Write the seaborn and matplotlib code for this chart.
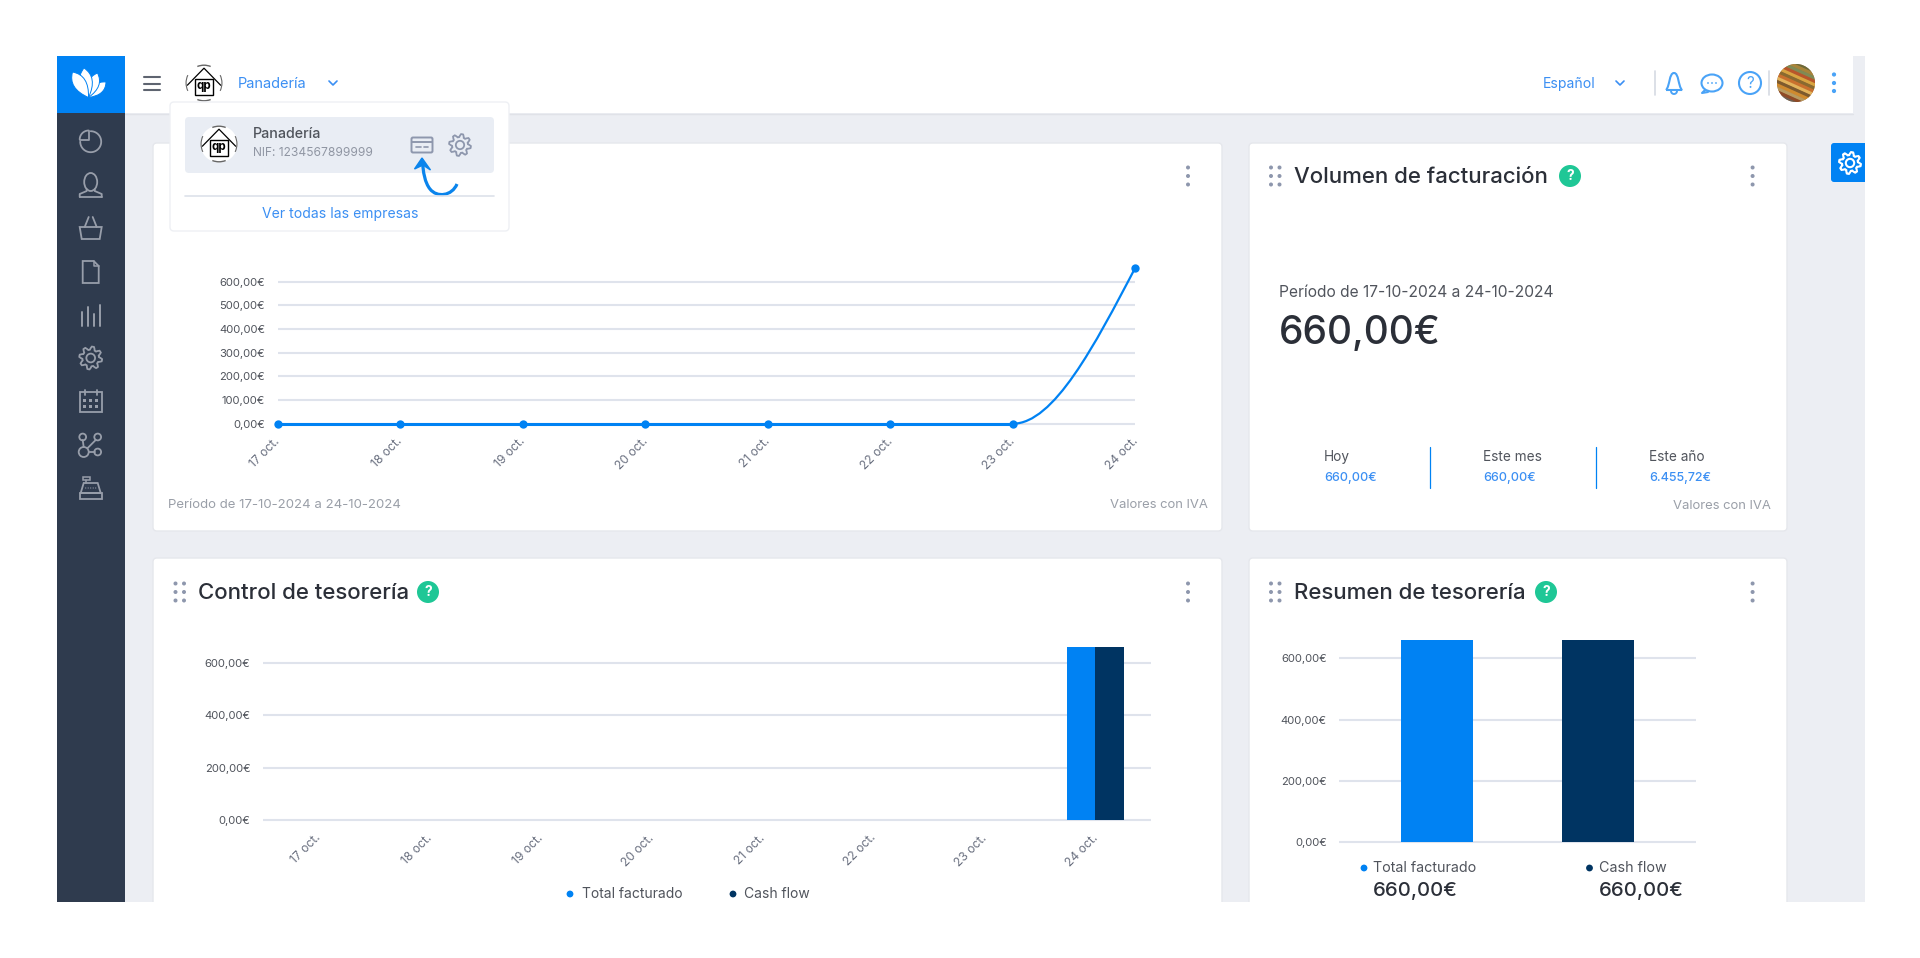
import numpy as np
import pandas as pd
import matplotlib
matplotlib.use('Agg')
import matplotlib.pyplot as plt
from matplotlib.patches import Rectangle, FancyBboxPatch, Circle, Ellipse, Wedge, Polygon, PathPatch
from matplotlib.path import Path
from matplotlib.transforms import ScaledTranslation
import seaborn as sns

# Data
dias = ['17 oct.', '18 oct.', '19 oct.', '20 oct.', '21 oct.', '22 oct.', '23 oct.', '24 oct.']
facturado_dia = [0, 0, 0, 0, 0, 0, 0, 660]
cash_flow_dia = [0, 0, 0, 0, 0, 0, 0, 660]
ticks_linea = [0, 100, 200, 300, 400, 500, 600]
etiquetas_linea = ['0,00€', '100,00€', '200,00€', '300,00€', '400,00€', '500,00€', '600,00€']
ticks_barras = [0, 200, 400, 600]
etiquetas_barras = ['0,00€', '200,00€', '400,00€', '600,00€']
series = ['Total facturado', 'Cash flow']
totales = [660, 660]
resumen_titulos = ['Hoy', 'Este mes', 'Este año']
resumen_valores = ['660,00€', '660,00€', '6.455,72€']

AZUL = '#0082F3'
MARINO = '#003462'
FONDO = '#ECEEF3'
REJILLA = '#DFE3EC'
OSCURO = '#2B2F38'
GRIS = '#9A9FA8'
LINK = '#3B8FF3'
ICONO = '#989EAA'
W, H = 1920, 958

sns.set_theme(style='white')
plt.rcParams['font.family'] = ['Inter', 'DejaVu Sans']

fig = plt.figure(figsize=(W / 100, H / 100), dpi=100, facecolor='white')
ui = fig.add_axes([0, 0, 1, 1], zorder=0)
ui.set_xlim(0, W)
ui.set_ylim(H, 0)
ui.axis('off')


def caja(x0, y0, x1, y1, color, r=4, z=1, borde='none'):
    ui.add_patch(FancyBboxPatch((x0 + r, y0 + r), x1 - x0 - 2 * r, y1 - y0 - 2 * r,
                                boxstyle=f'round,pad={r},rounding_size={r}', fc=color, ec=borde, lw=1, zorder=z))


def texto(x, y, s, size=9, color=OSCURO, ha='left', weight='normal', z=6):
    ui.text(x, y + 1.3, s, fontsize=size, color=color, ha=ha, va='center', fontweight=weight, zorder=z)


def linea(xs, ys, color=ICONO, lw=1.3, z=5):
    ui.plot(xs, ys, color=color, lw=lw, solid_capstyle='round', zorder=z)


def engranaje(cx, cy, r, color=ICONO, lw=1.3, z=5):
    ang = np.linspace(0, 2 * np.pi, 65)
    rad = r * (0.86 + 0.14 * np.tanh(3 * np.sin(8 * ang)))
    ui.add_patch(Polygon(np.c_[cx + rad * np.cos(ang), cy + rad * np.sin(ang)], fc='none', ec=color, lw=lw, zorder=z))
    ui.add_patch(Circle((cx, cy), r * 0.38, fc='none', ec=color, lw=lw, zorder=z))


def casa(cx, cy, r):
    ui.add_patch(Circle((cx, cy), r, fc='white', ec='none', zorder=5))
    for centro in (90, 270):
        ui.add_patch(Wedge((cx, cy), r, centro - 22, centro + 22, width=1.4, fc='#666666', ec='none', zorder=6))
    for centro in (0, 180):
        ui.add_patch(Wedge((cx, cy), r, centro - 26, centro + 26, width=1.1, fc='#666666', ec='none', zorder=6))
    linea([cx - r * 0.9, cx, cx + r * 0.9], [cy + r * 0.12, cy - r * 0.8, cy + r * 0.12], 'black', 0.9, 6)
    ui.add_patch(Rectangle((cx - r * 0.48, cy - r * 0.2), r * 0.96, r * 0.85, fc='white', ec='black', lw=1, zorder=6))
    ui.text(cx, cy + r * 0.14, 'qp', fontsize=r * 0.45, ha='center', va='center', color='black', fontweight='bold', zorder=7)


def puntos_v(x, y):
    for d in (-8.5, 0, 8.5):
        ui.add_patch(Circle((x, y + d), 2, fc='#8E97AD', ec='none', zorder=6))


def cabecera(x_asa, x_tit, y, titulo, x_ayuda, x_menu):
    for dx in (0, 8.5):
        for dy in (-8.5, 0, 8.5):
            ui.add_patch(Circle((x_asa + dx, y + dy), 2, fc='#8E97AD', ec='none', zorder=6))
    texto(x_tit, y, titulo, 16, OSCURO, weight='medium')
    ui.add_patch(Circle((x_ayuda, y), 11, fc='#1FC796', ec='none', zorder=6))
    ui.text(x_ayuda, y, '?', fontsize=10, color='white', ha='center', va='center', fontweight='bold', zorder=7)
    puntos_v(x_menu, y)


def ejes(izq, der, y0, y600, arriba, xlim):
    abajo = y0 + 4
    ax = fig.add_axes([izq / W, 1 - abajo / H, (der - izq) / W, (abajo - arriba) / H], zorder=2)
    ax.patch.set_alpha(0)
    k = 600 / (y0 - y600)
    ax.set_ylim(-4 * k, (y0 - arriba) * k)
    ax.set_xlim(*xlim)
    return ax


def estilo(ax, ticks, etiquetas, pos, labels):
    ax.set_yticks(ticks, etiquetas)
    ax.set_xlabel('')
    ax.set_ylabel('')
    ax.yaxis.grid(True, color=REJILLA, lw=1.5)
    ax.set_axisbelow(True)
    sns.despine(ax=ax, left=True, bottom=True)
    ax.tick_params(axis='y', length=0, pad=9.0, labelsize=8.1, labelcolor='#50545C')
    if labels:
        ax.set_xticks(pos, labels)
        ax.tick_params(axis='x', length=0, pad=5.5, labelsize=8.7, labelcolor='#6A7080')
        corrimiento = ScaledTranslation(-3.5 / 100, 0, fig.dpi_scale_trans)
        for t in ax.get_xticklabels():
            t.set_rotation(45)
            t.set_ha('right')
            t.set_va('top')
            t.set_rotation_mode('anchor')
            t.set_transform(t.get_transform() + corrimiento)


# Page frame
ui.add_patch(Rectangle((57, 56), 1808, 846, fc=FONDO, ec='none', zorder=0))
ui.add_patch(Rectangle((125, 56), 1728, 57, fc='white', ec='none', zorder=1))
ui.plot([125, 1853], [113.5, 113.5], color='#E0E2E8', lw=1, zorder=1)
ui.add_patch(Rectangle((57, 113), 68, 789, fc='#2F3B4E', ec='none', zorder=1))
ui.add_patch(Rectangle((57, 56), 68, 57, fc=AZUL, ec='none', zorder=1))

# Logo
base = np.array([88.5, 97.5])
for tip in [(106, 82), (97.5, 73), (84, 68), (72.5, 72)]:
    tip = np.array(tip)
    d = tip - base
    n = np.array([-d[1], d[0]]) * 0.42
    petalo = Path([base, base + 0.62 * d + n, tip, base + 0.62 * d - n, base],
                  [Path.MOVETO, Path.CURVE3, Path.CURVE3, Path.CURVE3, Path.CURVE3])
    ui.add_patch(PathPatch(petalo, fc='white', ec=AZUL, lw=0.7, zorder=3))

# Sidebar icons
cx = 90.7
ang = np.radians(np.linspace(90, -180, 50))
linea(cx + 10.5 * np.cos(ang), 141.7 - 10.5 * np.sin(ang), lw=1.3)
ang = np.radians(np.linspace(90, 180, 20))
linea(cx - 2 + 9 * np.cos(ang), 139.5 - 9 * np.sin(ang), lw=1.3)
linea([cx - 11, cx - 2, cx - 2], [139.5, 139.5, 130.5], lw=1.3)
ui.add_patch(Ellipse((cx, 182), 13, 18, fc='none', ec=ICONO, lw=1.3, zorder=5))
linea([cx - 11, cx - 11, cx - 4, cx - 4], [197, 194, 191, 189], lw=1.3)
linea([cx + 11, cx + 11, cx + 4, cx + 4], [197, 194, 191, 189], lw=1.3)
linea([cx - 11, cx + 11], [197, 197], lw=1.3)
ui.add_patch(Polygon([(cx - 11, 227), (cx + 11, 227), (cx + 9, 239), (cx - 9, 239)], fc='none', ec=ICONO, lw=1.3, zorder=5))
linea([cx - 6, cx - 2], [227, 217], lw=1.3)
linea([cx + 6, cx + 2], [227, 217], lw=1.3)
ui.add_patch(Polygon([(cx - 8, 261), (cx + 3, 261), (cx + 8, 266), (cx + 8, 283), (cx - 8, 283)], fc='none', ec=ICONO, lw=1.3, zorder=5))
linea([cx + 3, cx + 3, cx + 8], [261, 266, 266], lw=1.1)
for dx, top in [(-9, 312), (-3, 307), (3, 314), (9, 305)]:
    linea([cx + dx, cx + dx], [top, 326], lw=1.4)
engranaje(cx, 358, 11.5, lw=1.3)
ui.add_patch(Rectangle((cx - 11, 392), 22, 20, fc='none', ec=ICONO, lw=1.3, zorder=5))
linea([cx - 6, cx - 6], [390, 395], lw=1.3)
linea([cx + 6, cx + 6], [390, 395], lw=1.3)
for dy in (400, 406):
    for dx in (-6, 0, 6):
        ui.add_patch(Rectangle((cx + dx - 1.5, dy - 1.5), 3, 3, fc=ICONO, ec='none', zorder=5))
for px, py, rr in [(-8, 437, 3.4), (7, 437, 3.4), (-7, 452, 5), (7, 452, 3.4)]:
    ui.add_patch(Circle((cx + px, py), rr, fc='none', ec=ICONO, lw=1.3, zorder=5))
linea([cx - 8, cx - 7], [440, 447], lw=1.3)
linea([cx + 5, cx - 3], [440, 448], lw=1.3)
linea([cx - 2, cx + 4], [452, 452], lw=1.3)
ui.add_patch(Rectangle((cx - 11, 493), 22, 6, fc='none', ec=ICONO, lw=1.3, zorder=5))
ui.add_patch(Polygon([(cx - 10, 493), (cx - 7, 483), (cx + 7, 483), (cx + 10, 493)], fc='none', ec=ICONO, lw=1.3, zorder=5))
ui.add_patch(Rectangle((cx - 8, 477), 7, 3, fc='none', ec=ICONO, lw=1.1, zorder=5))
linea([cx - 4.5, cx - 4.5], [480, 483], lw=1.1)
for dx in (-5, -2.5, 0, 2.5, 5):
    ui.add_patch(Circle((cx + dx, 488), 0.6, fc=ICONO, ec='none', zorder=5))

# Header bar
for y in (77, 83.5, 90):
    linea([143.5, 159.5], [y, y], '#5E6470', 1.5)
casa(204, 83, 18.5)
texto(238, 83, 'Panadería', 10.5, LINK)
linea([329, 333, 337], [81, 85, 81], LINK, 1.2)
texto(1543, 83, 'Español', 10.1, LINK)
linea([1616, 1620, 1624], [81, 85, 81], LINK, 1.2)
linea([1655, 1655], [71, 95], '#D5DAE3', 1.2)
linea([1769, 1769], [71, 95], '#D5DAE3', 1.2)
AZ_ICO = '#4AA3F7'
ui.add_patch(PathPatch(Path([(1666, 90), (1670, 86), (1669, 73), (1674, 73), (1679, 73), (1678, 86), (1682, 90), (1666, 90)],
                            [1, 4, 4, 4, 4, 4, 4, 2]), fc='none', ec=AZ_ICO, lw=1.5, zorder=5))
ang = np.radians(np.linspace(180, 360, 12))
linea(1674 + 3 * np.cos(ang), 91 - 3 * np.sin(ang), AZ_ICO, 1.4)
ui.add_patch(Ellipse((1712, 83), 21, 17, fc='none', ec=AZ_ICO, lw=1.5, zorder=5))
linea([1705, 1702, 1708], [90, 93, 92], AZ_ICO, 1.5)
for dx in (-4, 0, 4):
    ui.add_patch(Circle((1712 + dx, 83), 0.9, fc=AZ_ICO, ec='none', zorder=5))
ui.add_patch(Circle((1750, 83), 11, fc='none', ec=AZ_ICO, lw=1.5, zorder=5))
ui.text(1750, 83, '?', fontsize=11, color=AZ_ICO, ha='center', va='center', zorder=6)
fondo_avatar = Circle((1796, 83), 19, fc='#9A6A35', ec='none', zorder=5)
ui.add_patch(fondo_avatar)
for i, c in enumerate(['#6B6A3A', '#A8843A', '#7F8A55', '#B8562B', '#D9A441', '#8A6A30', '#C9702E', '#E3B35B',
                       '#7D5A2E', '#CF8A2E', '#B89A60', '#8F4A26', '#6A6058', '#555555', '#8C8C8C']):
    ln, = ui.plot([1776, 1816], [60 + 3.4 * i - 6, 60 + 3.4 * i + 12], color=c, lw=2.5, zorder=5)
    ln.set_clip_path(fondo_avatar)
for y in (74.5, 83, 91):
    ui.add_patch(Circle((1834, y), 2.1, fc=AZ_ICO, ec='none', zorder=5))

# Side gear tab
caja(1831, 143, 1880, 182, AZUL, r=3, z=1)
ui.add_patch(Rectangle((1865, 130), 20, 70, fc='white', ec='none', zorder=2))
engranaje(1850, 163, 11, 'white', 1.5)

# Cards
BORDE = '#E5E7EC'
caja(153, 143, 1222, 531, 'white', borde=BORDE)
caja(1249, 143, 1787, 531, 'white', borde=BORDE)
caja(153, 558, 1222, 930, 'white', borde=BORDE)
caja(1249, 558, 1787, 930, 'white', borde=BORDE)
puntos_v(1188, 176)

cabecera(1271, 1294, 176, 'Volumen de facturación', 1570, 1752.6)
cabecera(175.5, 198, 592, 'Control de tesorería', 428, 1188)
cabecera(1271, 1294, 592, 'Resumen de tesorería', 1546, 1752.6)

# Card footers and invoicing summary
texto(168, 504, 'Período de 17-10-2024 a 24-10-2024', 9.5, GRIS)
texto(1208, 504, 'Valores con IVA', 9.4, GRIS, ha='right')
texto(1771, 504.5, 'Valores con IVA', 9.4, GRIS, ha='right')
texto(1279, 291, 'Período de 17-10-2024 a 24-10-2024', 11.2, '#50545C')
texto(1279, 332, '660,00€', 28, OSCURO, weight='medium')
for x, tit, val in zip([1324, 1483, 1649], resumen_titulos, resumen_valores):
    texto(x, 456, tit, 9.8, '#50545C')
    texto(x, 477, val, 9, LINK, weight='medium')
linea([1429.5, 1429.5], [447, 488], AZUL, 0.9)
linea([1595.5, 1595.5], [447, 488], AZUL, 0.9)

# Line chart
pos = np.arange(len(dias))
df_linea = pd.DataFrame({'pos': pos, 'valor': facturado_dia})
ax1 = ejes(277.5, 1135.4, 423.7, 281.7, 255, (0, 7))
sns.lineplot(data=df_linea.iloc[:7], x='pos', y='valor', color=AZUL, lw=2.2, ax=ax1, zorder=3)
sns.scatterplot(data=df_linea, x='pos', y='valor', color=AZUL, s=36, linewidth=0, ax=ax1, zorder=4, clip_on=False)
# monotone curve between the last two days, control points derived from the values
x_a, x_b = pos[-2], pos[-1]
v_a, v_b = facturado_dia[-2], facturado_dia[-1]
curva = Path([(x_a, v_a), (x_a + (x_b - x_a) / 3, v_a), (x_b - (x_b - x_a) / 3, v_a + (v_b - v_a) / 2), (x_b, v_b)],
             [Path.MOVETO, Path.CURVE4, Path.CURVE4, Path.CURVE4])
ax1.add_patch(PathPatch(curva, fc='none', ec=AZUL, lw=1.6, zorder=3, clip_on=False))
estilo(ax1, ticks_linea, etiquetas_linea, pos, dias)

# Daily treasury bars
df_dia = pd.DataFrame({
    'dia': dias * 2,
    'serie': [series[0]] * len(dias) + [series[1]] * len(dias),
    'valor': facturado_dia + cash_flow_dia,
})
ax3 = ejes(262.8, 1150.9, 820.3, 662.7, 640, (-0.5, 7.5))
sns.barplot(data=df_dia, x='dia', y='valor', hue='serie', palette=[AZUL, MARINO], width=0.51, saturation=1,
            linewidth=0, legend=False, ax=ax3, zorder=3)
ax3.set_xlim(-0.5, 7.5)
estilo(ax3, ticks_barras, etiquetas_barras, pos, dias)

# Summary bars
df_total = pd.DataFrame({'serie': series, 'valor': totales})
ax4 = ejes(1339.3, 1695.8, 842, 658.3, 632, (-0.609, 1.609))
sns.barplot(data=df_total, x='serie', y='valor', hue='serie', palette=[AZUL, MARINO], width=0.448, saturation=1,
            linewidth=0, legend=False, ax=ax4, zorder=3)
ax4.set_xlim(-0.609, 1.609)
estilo(ax4, ticks_barras, etiquetas_barras, None, None)
ax4.set_xticks([])

# Legends
for xm, xt, s, c in [(570, 582, series[0], AZUL), (733, 744, series[1], MARINO)]:
    ui.add_patch(Circle((xm, 894), 3.4, fc=c, ec='none', zorder=6))
    texto(xt, 893, s, 10, '#50545C')
for xm, xt, s, c, v in [(1364, 1373, series[0], AZUL, totales[0]), (1589.5, 1599, series[1], MARINO, totales[1])]:
    ui.add_patch(Circle((xm, 868), 3.4, fc=c, ec='none', zorder=6))
    texto(xt, 867, s, 10.3, '#50545C')
    texto(xt, 890, f'{v},00€', 14.6, OSCURO, weight='medium')

# Company dropdown
caja(170, 102, 509, 231, 'white', z=7, borde='#EEF0F4')
caja(185, 117, 494, 173, '#E9EDF4', z=7)
n_p, n_l, n_t = len(ui.patches), len(ui.lines), len(ui.texts)
casa(219, 144, 18.5)
texto(253, 133, 'Panadería', 10.3, '#50545C', weight='medium')
texto(253, 152, 'NIF: 1234567899999', 8.65, '#9096A3')
ui.add_patch(FancyBboxPatch((412, 138), 20, 14, boxstyle='round,pad=0.5,rounding_size=1.5', fc='none', ec='#8E97AD', lw=1.4))
linea([412, 432], [142, 142], '#8E97AD', 1.4)
linea([416, 421], [147, 147], '#8E97AD', 1.2)
linea([424, 428], [147, 147], '#8E97AD', 1.2)
engranaje(460, 145, 11, '#8E97AD', 1.3)
linea([185, 494], [196, 196], '#DDE1EA', 1.2)
texto(340, 213, 'Ver todas las empresas', 10.1, LINK, ha='center')
flecha = Path([(457, 184), (452, 196), (437, 198), (430, 189), (425, 183), (423, 172), (422.5, 161)],
              [Path.MOVETO, Path.CURVE4, Path.CURVE4, Path.CURVE4, Path.CURVE4, Path.CURVE4, Path.CURVE4])
ui.add_patch(PathPatch(flecha, fc='none', ec='#0A84EC', lw=2.3))
ui.add_patch(Polygon([(422, 158), (414.5, 169), (423, 165), (430.5, 170)], fc='#0A84EC', ec='#0A84EC', lw=1))
for art in ui.patches[n_p:] + ui.lines[n_l:] + ui.texts[n_t:]:
    art.set_zorder(art.get_zorder() + 8)

# Bottom margin of the screenshot
ui.add_patch(Rectangle((0, 902), W, 60, fc='white', ec='none', zorder=20))

fig.savefig('out.png', dpi=100, facecolor='white')
